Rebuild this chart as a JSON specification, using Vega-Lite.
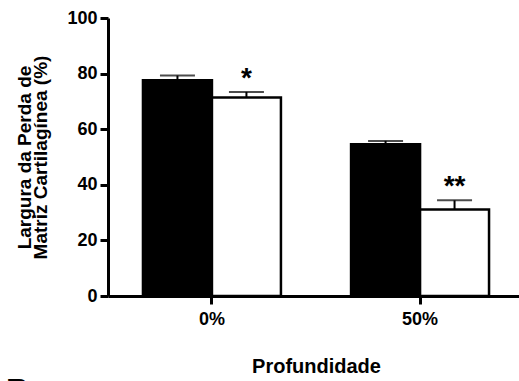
{
  "$schema": "https://vega.github.io/schema/vega-lite/v6.json",
  "width": 411,
  "height": 278,
  "autosize": {"type": "none"},
  "padding": {"left": 108, "top": 18, "right": 0, "bottom": 85},
  "config": {
    "font": "Liberation Sans",
    "view": {"stroke": null},
    "axis": {
      "grid": false,
      "domainColor": "black",
      "tickColor": "black",
      "labelColor": "black",
      "titleColor": "black",
      "domainWidth": 3,
      "tickWidth": 3,
      "tickSize": 8,
      "labelFont": "Liberation Sans",
      "titleFont": "Liberation Sans",
      "labelFontWeight": "bold",
      "titleFontWeight": "bold",
      "zindex": 1
    }
  },
  "title": {
    "text": "B",
    "orient": "bottom",
    "anchor": "start",
    "frame": "bounds",
    "fontSize": 32,
    "fontWeight": "bold",
    "font": "Liberation Sans",
    "color": "black",
    "offset": 0,
    "dx": -10
  },
  "data": {
    "values": [
      {"profundidade": "0%", "grupo": "Grupo 1", "media": 77.6, "superior": 79.3, "sig": ""},
      {"profundidade": "0%", "grupo": "Grupo 2", "media": 71.4, "superior": 73.4, "sig": "*"},
      {"profundidade": "50%", "grupo": "Grupo 1", "media": 54.6, "superior": 55.8, "sig": ""},
      {"profundidade": "50%", "grupo": "Grupo 2", "media": 31.1, "superior": 34.4, "sig": "**"}
    ]
  },
  "encoding": {
    "x": {
      "field": "profundidade",
      "type": "nominal",
      "sort": ["0%", "50%"],
      "scale": {"paddingInner": 0.337, "paddingOuter": 0.168, "range": [0, 416]},
      "axis": {
        "labelAngle": 0,
        "labelFontSize": 18,
        "labelPadding": 6,
        "title": "Profundidade",
        "titleFontSize": 20,
        "titlePadding": 28
      }
    },
    "xOffset": {"field": "grupo", "type": "nominal", "sort": ["Grupo 1", "Grupo 2"]}
  },
  "layer": [
    {
      "mark": {"type": "bar", "stroke": "black", "strokeWidth": 2.5},
      "encoding": {
        "y": {
          "field": "media",
          "type": "quantitative",
          "scale": {"domain": [0, 100], "nice": false},
          "axis": {
            "values": [0, 20, 40, 60, 80, 100],
            "labelFontSize": 18,
            "labelPadding": 3,
            "title": ["Largura da Perda de", "Matriz Cartilagínea (%)"],
            "titleFontSize": 19,
            "titleLineHeight": 16,
            "titlePadding": 16
          }
        },
        "fill": {
          "field": "grupo",
          "type": "nominal",
          "scale": {"domain": ["Grupo 1", "Grupo 2"], "range": ["black", "white"]},
          "legend": null
        }
      }
    },
    {
      "mark": {"type": "rule", "color": "black", "strokeWidth": 2},
      "encoding": {
        "y": {"field": "media", "type": "quantitative"},
        "y2": {"field": "superior"}
      }
    },
    {
      "mark": {"type": "tick", "color": "black", "thickness": 2, "size": 35},
      "encoding": {
        "y": {"field": "superior", "type": "quantitative"}
      }
    },
    {
      "mark": {"type": "text", "fontSize": 28, "fontWeight": "bold", "baseline": "alphabetic", "dy": -5, "color": "black"},
      "encoding": {
        "y": {"field": "superior", "type": "quantitative"},
        "text": {"field": "sig"}
      }
    }
  ]
}
